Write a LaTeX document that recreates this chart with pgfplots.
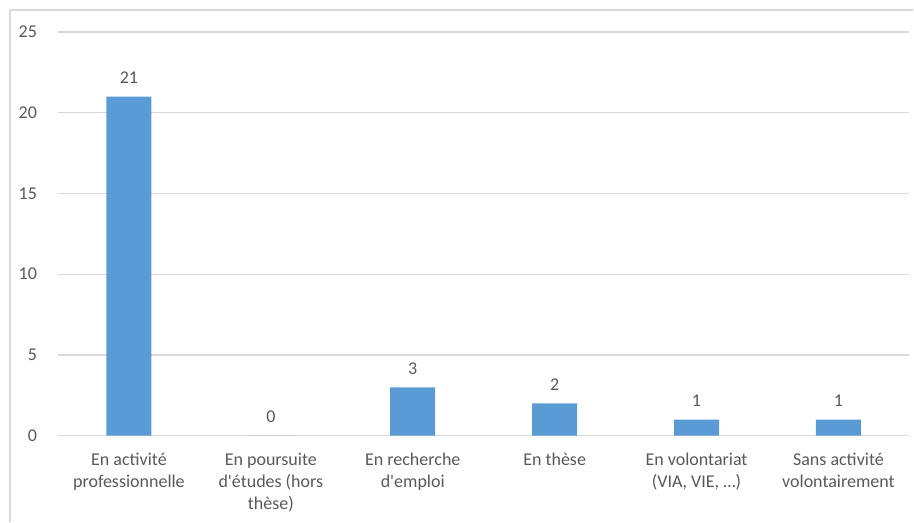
\documentclass[border=0pt]{standalone}
\usepackage{pgfplots}
\pgfplotsset{compat=1.18}
\usepackage{fontspec}
\setmainfont{Carlito}
\definecolor{barblue}{HTML}{5B9BD5}
\definecolor{gridgray}{HTML}{D9D9D9}
\definecolor{txtgray}{HTML}{595959}
\begin{document}
\begin{tikzpicture}[font=\fontsize{9}{11}\selectfont]
  % picture frame: 914x522 px at 0.5pt per px, origin = lower left of the plot area
  \path (-29pt,-43pt) rectangle (428pt,218pt);
  \draw[gridgray, line width=0.6pt] (-24pt,-43pt) -- (-24pt,213pt) -- (428pt,213pt);
  \begin{axis}[
    at={(0,0)}, anchor=south west,
    scale only axis, width=426pt, height=202pt,
    ybar, bar width=22.5pt,
    xmin=-0.5, xmax=5.5, ymin=0, ymax=25,
    xtick=data,
    xticklabels={{En activité\\professionnelle}, {En poursuite\\d\textquotesingle études (hors\\thèse)}, {En recherche\\d\textquotesingle emploi}, {En thèse}, {En volontariat\\(VIA, VIE, …)}, {Sans activité\\volontairement}},
    xticklabel style={align=center, anchor=north, yshift=-5pt, text=txtgray, font=\fontsize{9}{11}\selectfont},
    ytick={0,5,10,15,20,25},
    yticklabel style={text=txtgray, xshift=-7pt, font=\fontsize{9}{11}\selectfont},
    /pgf/number format/assume math mode=true,
    major tick length=0pt,
    ymajorgrids, grid style={gridgray, line width=0.6pt},
    axis x line*=bottom, axis y line*=left,
    x axis line style={gridgray, line width=0.6pt, -},
    y axis line style={draw=none},
    nodes near coords,
    nodes near coords style={text=txtgray, yshift=3pt, font=\fontsize{9}{11}\selectfont},
  ]
    \addplot[fill=barblue, draw=none] coordinates {(0,21) (1,0) (2,3) (3,2) (4,1) (5,1)};
  \end{axis}
\end{tikzpicture}
\end{document}
